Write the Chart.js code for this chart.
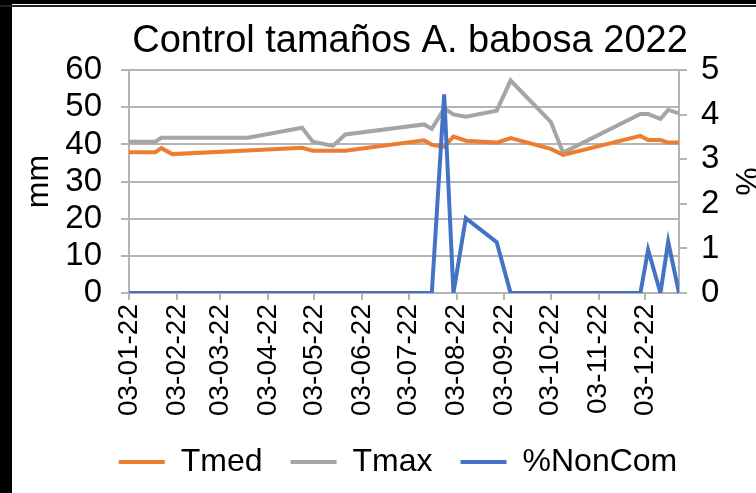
<!DOCTYPE html>
<html>
<head>
<meta charset="utf-8">
<script src="https://cdn.jsdelivr.net/npm/chart.js@4.4.1/dist/chart.umd.min.js"></script>
<style>
  html, body { margin:0; padding:0; background:#fff; width:756px; height:493px; overflow:hidden; }
  #bl { position:absolute; left:0; top:0; width:12px; height:493px; background:#000; }
  #bt { position:absolute; left:0; top:0; width:756px; height:4px; background:#000; }
  #bt2 { position:absolute; left:0; top:5px; width:756px; height:2px; background:#222; }
  #wrap { position:absolute; left:12px; top:7px; width:744px; height:486px; }
</style>
</head>
<body>
<div id="bl"></div><div id="bt"></div><div id="bt2"></div>
<div id="wrap"><canvas id="c" width="744" height="486"></canvas></div>
<script>
const chartTitle = 'Control tamaños A. babosa 2022';
const dates = ['2022-01-03','2022-01-20','2022-01-24','2022-01-31','2022-03-21','2022-04-25',
  '2022-05-02','2022-05-15','2022-05-23','2022-07-13','2022-07-18','2022-07-26','2022-08-01',
  '2022-08-09','2022-08-29','2022-09-07','2022-10-03','2022-10-11','2022-11-30','2022-12-05',
  '2022-12-13','2022-12-18','2022-12-25'];
const tmed = [37.9,37.9,39.0,37.4,38.4,39.1,38.3,38.3,38.3,41.1,39.9,39.4,42.1,41.0,40.5,41.7,38.8,37.2,42.3,41.2,41.2,40.5,40.5];
const tmax = [40.75,40.75,41.8,41.8,41.8,44.5,40.75,39.6,42.7,45.4,44.2,49.7,48.1,47.5,49.1,57.2,46.1,37.8,48.2,48.2,46.9,49.3,48.4];
const nonCom = [0,0,0,0,0,0,0,0,0,0,0,4.46,0,1.68,1.14,0,0,0,0,0.97,0,1.15,0];
const tickDates = ['2022-01-03','2022-02-03','2022-03-03','2022-04-03','2022-05-03','2022-06-03',
  '2022-07-03','2022-08-03','2022-09-03','2022-10-03','2022-11-03','2022-12-03'];
const leftTicks = [0,10,20,30,40,50,60];
const rightTicks = [0,1,2,3,4,5];

const DAY = 86400000;
const toMs = s => { const [y,m,d] = s.split('-').map(Number); return Date.UTC(y, m-1, d); };
const base = toMs(dates[0]);
const toDay = s => Math.round((toMs(s) - base) / DAY);
const fmt = v => {
  const dt = new Date(base + v * DAY);
  const p = n => String(n).padStart(2,'0');
  return p(dt.getUTCDate()) + '-' + p(dt.getUTCMonth()+1) + '-' + String(dt.getUTCFullYear()).slice(2);
};
const xs = dates.map(toDay);
const mk = arr => arr.map((v,i) => ({x: xs[i], y: v}));

const FONT = "'Liberation Sans', Arial, sans-serif";
const ORANGE = '#ED7D31', GRAY = '#A5A5A5', BLUE = '#4472C4';
const GRID = '#B4B4B4';

const shiftBoxes = {
  id: 'shiftBoxes',
  afterLayout(chart) {
    if (chart.titleBlock) { chart.titleBlock.left += 26; chart.titleBlock.right += 26; }
    if (chart.legend) { chart.legend.left += 14; chart.legend.right += 14; }
  }
};

new Chart(document.getElementById('c'), {
  type: 'line',
  plugins: [shiftBoxes],
  data: {
    datasets: [
      { label: 'Tmed', data: mk(tmed), borderColor: ORANGE, backgroundColor: ORANGE, borderWidth: 4, pointRadius: 0, yAxisID: 'y', order: 2 },
      { label: 'Tmax', data: mk(tmax), borderColor: GRAY, backgroundColor: GRAY, borderWidth: 4, pointRadius: 0, yAxisID: 'y', order: 3 },
      { label: '%NonCom', data: mk(nonCom), borderColor: BLUE, backgroundColor: BLUE, borderWidth: 4, pointRadius: 0, yAxisID: 'y1', order: 1 }
    ]
  },
  options: {
    responsive: false,
    animation: false,
    devicePixelRatio: 1,
    layout: { padding: { left: 0, right: 0, top: 0, bottom: 5 } },
    plugins: {
      title: { display: true, text: chartTitle, color: '#000', font: { family: FONT, size: 38, weight: 'normal' }, padding: { top: 12, bottom: 5.6 } },
      legend: {
        position: 'bottom',
        labels: {
          color: '#000', font: { family: FONT, size: 32 }, boxWidth: 46, boxHeight: 4, padding: 28,
          generateLabels: (chart) => chart.data.datasets.map((ds, i) => ({
            text: ds.label, fillStyle: ds.borderColor, strokeStyle: ds.borderColor, lineWidth: 0,
            hidden: false, datasetIndex: i, fontColor: '#000'
          }))
        }
      },
      tooltip: { enabled: false }
    },
    scales: {
      x: {
        type: 'linear',
        min: 0, max: xs[xs.length - 1],
        afterBuildTicks: (s) => { s.ticks = tickDates.map(d => ({ value: toDay(d) })); },
        afterFit: (s) => { s.height = 125; },
        ticks: { callback: v => fmt(v), minRotation: 90, maxRotation: 90, autoSkip: false, color: '#000', font: { family: FONT, size: 28 }, padding: 4 },
        grid: { drawOnChartArea: false, drawTicks: true, tickLength: 7, color: GRID, lineWidth: 2 },
        border: { color: GRID, width: 2 }
      },
      y: {
        position: 'left', min: 0, max: 60,
        afterBuildTicks: (s) => { s.ticks = leftTicks.map(v => ({ value: v })); },
        afterFit: (s) => { s.width = 117; },
        ticks: { color: '#000', font: { family: FONT, size: 33 }, padding: 19, autoSkip: false },
        grid: { color: GRID, lineWidth: 2, tickLength: 8 },
        border: { color: GRID, width: 2 },
        title: { display: true, text: 'mm', color: '#000', font: { family: FONT, size: 32 }, padding: { top: 8, bottom: 0 } }
      },
      y1: {
        position: 'right', min: 0, max: 5,
        afterBuildTicks: (s) => { s.ticks = rightTicks.map(v => ({ value: v })); },
        afterFit: (s) => { s.width = 77; },
        ticks: { color: '#000', font: { family: FONT, size: 33 }, padding: 14, autoSkip: false },
        grid: { drawOnChartArea: false, color: GRID, lineWidth: 2, tickLength: 8 },
        border: { color: GRID, width: 2 },
        title: { display: true, text: '%', color: '#000', font: { family: FONT, size: 32 }, padding: { top: -8, bottom: 0 } }
      }
    }
  }
});
</script>
</body>
</html>
